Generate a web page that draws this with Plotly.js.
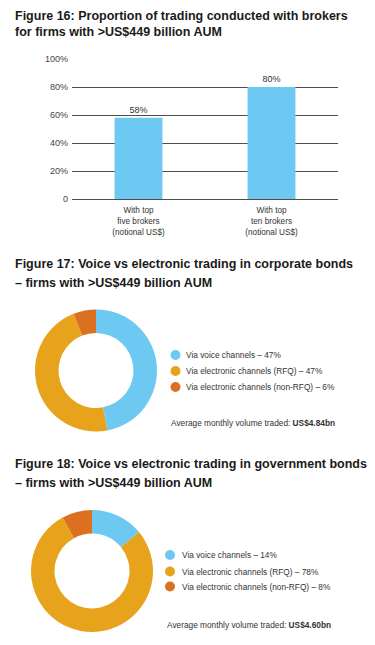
<!DOCTYPE html>
<html>
<head>
<meta charset="utf-8">
<script src="https://cdn.plot.ly/plotly-3.0.1.min.js"></script>
<style>html,body{margin:0;padding:0;background:#fff;}#chart{width:375px;height:645px;}</style>
</head>
<body>
<div id="chart"></div>
<script>
// ---------- data ----------
const fig16Title = ["Figure 16: Proportion of trading conducted with brokers", "for firms with >US$449 billion AUM"];
const brokerCategories = ["With top<br>five brokers<br>(notional US$)", "With top<br>ten brokers<br>(notional US$)"];
const brokerShare = [58, 80];
const yTickVals = [0, 20, 40, 60, 80, 100];
const yTickText = ["0", "20%", "40%", "60%", "80%", "100%"];

const fig17Title = ["Figure 17: Voice vs electronic trading in corporate bonds", "– firms with >US$449 billion AUM"];
const fig18Title = ["Figure 18: Voice vs electronic trading in government bonds", "– firms with >US$449 billion AUM"];
const channelLabels = ["Via voice channels", "Via electronic channels (RFQ)", "Via electronic channels (non-RFQ)"];
const corporateShare = [47, 47, 6];
const governmentShare = [14, 78, 8];
const corporateVolume = "US$4.84bn";
const governmentVolume = "US$4.60bn";
const volumeLabel = "Average monthly volume traded: ";

// ---------- style ----------
const W = 375, H = 645;
const FONT = "'Liberation Sans', Arial, 'DejaVu Sans', sans-serif";
const colors = ["#6DC9F1", "#E7A31C", "#DC7021"];
const barColor = "#6DC9F1";
const px = x => x / W;
const py = y => 1 - y / H;
const nf = (size, color, weight) => ({family: FONT, size: size, color: color, weight: weight || "normal"});

const traces = [];
traces.push({
  type: "bar",
  x: brokerCategories,
  y: brokerShare,
  text: brokerShare.map(v => v + "%"),
  texttemplate: "%{text}",
  marker: {color: barColor},
  textposition: "outside",
  textfont: nf(9, "#333"),
  cliponaxis: false,
  hoverinfo: "none",
  showlegend: false
});

function donut(values, x0, x1, y0, y1) {
  return {
    type: "pie",
    labels: channelLabels,
    values: values,
    marker: {colors: colors, line: {width: 0}},
    sort: false,
    direction: "clockwise",
    rotation: 0,
    hole: 0.615,
    textinfo: "none",
    hoverinfo: "none",
    showlegend: false,
    domain: {x: [px(x0), px(x1)], y: [py(y1), py(y0)]}
  };
}
traces.push(donut(corporateShare, 35, 157, 309.5, 431.5));
traces.push(donut(governmentShare, 31, 153, 510, 632));

const annotations = [];
const shapes = [];
function titleLines(lines, x, ys) {
  lines.forEach((t, i) => annotations.push({
    text: t, xref: "paper", yref: "paper", x: px(x), y: py(ys[i]),
    xanchor: "left", yanchor: "middle", showarrow: false,
    font: nf(12.5, "#1a1a1a", "bold")
  }));
}
titleLines(fig16Title, 13, [16, 32]);
titleLines(fig17Title, 13, [264, 283]);
titleLines(fig18Title, 13, [464, 483]);

function legendBlock(values, markerX, textX, rowYs, volY, volX, volume) {
  channelLabels.forEach((lab, i) => {
    shapes.push({
      type: "circle", xref: "paper", yref: "paper",
      xsizemode: "pixel", ysizemode: "pixel",
      xanchor: px(markerX), yanchor: py(rowYs[i]),
      x0: -5, x1: 5, y0: -5, y1: 5,
      fillcolor: colors[i], line: {width: 0}
    });
    annotations.push({
      text: lab + " – " + values[i] + "%", xref: "paper", yref: "paper",
      x: px(textX), y: py(rowYs[i]), xanchor: "left", yanchor: "middle",
      showarrow: false, font: nf(8.3, "#333")
    });
  });
  annotations.push({
    text: volumeLabel + "<b>" + volume + "</b>", xref: "paper", yref: "paper",
    x: px(volX), y: py(volY), xanchor: "left", yanchor: "middle",
    showarrow: false, font: nf(8.3, "#333")
  });
}
legendBlock(corporateShare, 175.5, 184, [355, 371, 387], 423, 169, corporateVolume);
legendBlock(governmentShare, 170, 180, [555, 571.5, 586.5], 625, 165, governmentVolume);

const layout = {
  width: W, height: H,
  margin: {l: 0, r: 0, t: 0, b: 0},
  paper_bgcolor: "#fff", plot_bgcolor: "#fff",
  showlegend: false,
  bargap: 0.64,
  xaxis: {
    domain: [px(72), px(338)],
    type: "category",
    showgrid: false, zeroline: false, showline: false, ticks: "",
    ticklabelstandoff: 5,
    tickfont: nf(8.2, "#333"),
    fixedrange: true
  },
  yaxis: {
    domain: [py(199), py(59)],
    range: [0, 100],
    tickvals: yTickVals, ticktext: yTickText,
    showgrid: true, gridcolor: "#4d4d4d", gridwidth: 1,
    zeroline: true, zerolinecolor: "#4d4d4d", zerolinewidth: 1,
    showline: false, ticks: "",
    ticklabelstandoff: 3,
    tickfont: nf(9, "#444"),
    fixedrange: true
  },
  annotations: annotations,
  shapes: shapes
};

Plotly.newPlot("chart", traces, layout, {displayModeBar: false, staticPlot: true});
</script>
</body>
</html>
